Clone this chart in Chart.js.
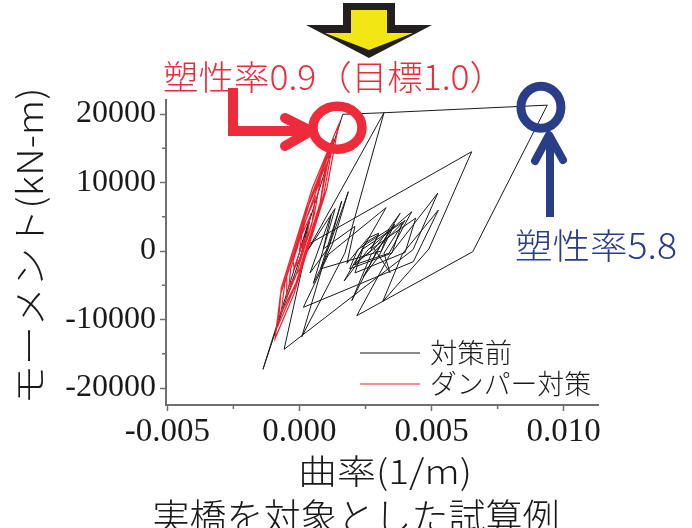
<!DOCTYPE html>
<html>
<head>
<meta charset="utf-8">
<script src="https://cdn.jsdelivr.net/npm/chart.js@4.4.1/dist/chart.umd.min.js"></script>
<style>
  html, body { margin: 0; padding: 0; background: #fff; }
  #wrap { width: 692px; height: 528px; position: relative; }
</style>
</head>
<body>
<div id="wrap"><canvas id="c" width="692" height="528"></canvas></div>
<script>
// Axis tick values
const xTickValues = [-0.005, 0.000, 0.005, 0.010];
const yTickValues = [-20000, -10000, 0, 10000, 20000];
const xMinorTicks = [-0.0025, 0.0025, 0.0075];
const yMinorTicks = [-15000, -5000, 5000, 15000];

// Moment–curvature response before retrofit (curvature 1/m, moment kN-m)
const beforeCurvature = [
  0, 0.00045, 0.00005, -0.00138, 0.00164, 0.0032, 0.00172, 0.00009, 0.0010, 0.00185,
  0.00125, 0.00053, 0.00135, 0.00028, 0.0032, 0.00938, 0.00656, 0.00217, 0.0034, 0.00523,
  0.0043, -0.00058, 0.0003, 0.00652, 0.0049, 0.00315, 0.0039, 0.00526, 0.00431, 0.00015,
  0.0011, 0.00328, 0.00169, 0.0026, 0.00425, 0.0034, 0.00205, 0.0029, 0.00381, 0.0030,
  0.00242, 0.0030, 0.0036, 0.0029, 0.00198, 0.0027, 0.0040, 0.0032, 0.00343, 0.0028,
  0.0044, 0.0040, 0.0021, 0.0024, 0.0039, 0.0035, 0.0019, 0.0022, 0.0034, 0.0031,
  0.0008, 0.0016, 0.0011, 0.0004, 0.0012, 0.0009, 0.0021, 0.0018, 0.0026, 0.0030,
  0.0027, 0.0021, 0.0025, 0.0030, 0.0027
];
const beforeMoment = [
  0, 5500, -700, -17270, 19960, 20190, -300, -12510, -600, 8660,
  1000, -4720, 6200, -100, 20190, 21300, -100, -9440, -700, 8420,
  200, -14350, 900, 14500, 300, -7400, -400, 5990, -1560, -8220,
  -500, 6330, -4380, 200, 5740, -300, -2040, 600, 5500, 300,
  -3750, -800, 3900, -200, -7250, -600, 4500, -300, -3170, 500,
  4800, -200, -3200, 300, 4200, -300, -2600, 200, 3200, 0,
  -2600, 7300, 500, -3200, 5300, 300, 3600, -1800, 1900, 2600,
  0, -1800, 1200, 2400, 300
];

// Moment–curvature response with dampers (narrow loops around the elastic branch)
const damperCurvature = [
  0, 0.0001, 0.0004, 0.0003, 0.0000, -0.0002, -0.00025, 0.00017, 0.0006, 0.00047,
  -0.00013, -0.0005, -0.00048, 0.0003, 0.0010, 0.00075, -0.00019, -0.0008, -0.00069, 0.00049,
  0.00148, 0.00104, -0.00022, -0.00092, -0.00072, 0.00047, 0.0013, 0.00092, -0.00012, -0.0007,
  -0.00055, 0.0004, 0.00115, 0.0008, 0.00001, -0.0004, -0.00033, 0.0003, 0.0008, 0.00056,
  0.00004, -0.0002, 0.0002, 0.0001
];
const damperMoment = [
  0, 2500, 5000, 2500, -1250, -2500, -1250, 3900, 7800, 3900,
  -3500, -7000, -3500, 6250, 12500, 6250, -5400, -10800, -5400, 9200,
  18400, 9200, -6400, -12750, -6400, 8250, 16500, 8250, -4600, -9200,
  -4600, 7250, 14500, 7250, -2600, -5200, -2600, 5250, 10500, 5250,
  -1250, -2500, 2000, 500
];

const seriesLabels = ['対策前', 'ダンパー対策'];
const seriesColors = ['#1a1a1a', '#ec2230'];
const noteDamper = '塑性率0.9（目標1.0）';
const noteBefore = '塑性率5.8';
const yTitle = 'モーメント(kN-m)';
const xTitle = '曲率(1/m)';
const caption = '実橋を対象とした試算例';

const RED = '#ee2b3b';
const BLUE = '#2a3d88';
const AXIS = '#707070';
const CJK = '"Noto Sans CJK JP", "Noto Sans CJK SC", sans-serif';

function toPoints(xs, ys) {
  return xs.map((x, i) => ({ x: x, y: ys[i] }));
}

// Draws text centred on (cx, cy), stretched horizontally to a given width
function fitText(ctx, text, cx, cy, size, width, color, rot) {
  ctx.save();
  ctx.font = '300 ' + size + 'px ' + CJK;
  const w = ctx.measureText(text).width;
  ctx.translate(cx, cy);
  if (rot) ctx.rotate(rot);
  ctx.scale(width / w, 1);
  ctx.textAlign = 'center';
  ctx.textBaseline = 'middle';
  ctx.fillStyle = color;
  ctx.fillText(text, 0, 0);
  ctx.restore();
}

const decorations = {
  id: 'decorations',
  afterDraw(chart) {
    const ctx = chart.ctx;
    const xs = chart.scales.x, ys = chart.scales.y;
    const area = chart.chartArea;

    // minor ticks
    ctx.save();
    ctx.strokeStyle = AXIS;
    ctx.lineWidth = 1.5;
    ctx.beginPath();
    xMinorTicks.forEach(v => {
      const px = xs.getPixelForValue(v);
      ctx.moveTo(px, area.bottom);
      ctx.lineTo(px, area.bottom + 4);
    });
    yMinorTicks.forEach(v => {
      const py = ys.getPixelForValue(v);
      ctx.moveTo(area.left, py);
      ctx.lineTo(area.left - 4, py);
    });
    ctx.stroke();
    ctx.restore();

    // legend inside the plot, lower right
    const legendRows = [353, 384];
    seriesLabels.forEach((label, i) => {
      const y = legendRows[i];
      ctx.save();
      ctx.strokeStyle = seriesColors[i];
      ctx.lineWidth = 1.2;
      ctx.beginPath();
      ctx.moveTo(360, y);
      ctx.lineTo(420, y);
      ctx.stroke();
      ctx.restore();
      const width = i === 0 ? 82 : 161;
      fitText(ctx, label, 430 + width / 2, y, 27, width, '#1a1a1a');
    });

    // axis titles and caption
    fitText(ctx, yTitle, 30, 246, 35, 317, '#1a1a1a', -Math.PI / 2);
    fitText(ctx, xTitle, 385, 471, 34, 174, '#1a1a1a');
    fitText(ctx, caption, 356, 517, 37, 407, '#1a1a1a');

    // load arrow at the top
    ctx.save();
    ctx.fillStyle = '#231f20';
    ctx.beginPath();
    ctx.moveTo(343, 3); ctx.lineTo(395, 3); ctx.lineTo(395, 25); ctx.lineTo(432, 25);
    ctx.lineTo(369, 58); ctx.lineTo(306, 25); ctx.lineTo(343, 25);
    ctx.closePath();
    ctx.fill();
    ctx.fillStyle = '#f2e614';
    ctx.beginPath();
    ctx.moveTo(351, 10); ctx.lineTo(387, 10); ctx.lineTo(387, 33); ctx.lineTo(413, 33);
    ctx.lineTo(369, 50); ctx.lineTo(325, 33); ctx.lineTo(351, 33);
    ctx.closePath();
    ctx.fill();
    ctx.restore();

    // damper case: ring around the peak and bent arrow
    const rc = { x: xs.getPixelForValue(0.00144), y: ys.getPixelForValue(18000) };
    ctx.save();
    ctx.strokeStyle = RED;
    ctx.lineWidth = 9.5;
    ctx.beginPath();
    ctx.ellipse(rc.x, rc.y, 24.5, 21.5, 0, 0, Math.PI * 2);
    ctx.stroke();
    ctx.lineWidth = 10;
    ctx.lineJoin = 'miter';
    ctx.beginPath();
    ctx.moveTo(233, 88); ctx.lineTo(233, 131); ctx.lineTo(308, 131);
    ctx.stroke();
    ctx.lineCap = 'round';
    ctx.lineJoin = 'round';
    ctx.beginPath();
    ctx.moveTo(285, 118); ctx.lineTo(311, 131); ctx.lineTo(285, 146);
    ctx.stroke();
    ctx.restore();
    fitText(ctx, noteDamper, 334, 77, 34, 342, RED);

    // unretrofitted case: ring around the peak and arrow
    const bc = { x: xs.getPixelForValue(0.00914), y: ys.getPixelForValue(21000) };
    ctx.save();
    ctx.strokeStyle = BLUE;
    ctx.lineWidth = 9;
    ctx.beginPath();
    ctx.ellipse(bc.x, bc.y, 20, 21, 0, 0, Math.PI * 2);
    ctx.stroke();
    ctx.lineWidth = 8;
    ctx.beginPath();
    ctx.moveTo(550, 217); ctx.lineTo(550, 138);
    ctx.stroke();
    ctx.lineCap = 'round';
    ctx.lineJoin = 'round';
    ctx.beginPath();
    ctx.moveTo(535, 161); ctx.lineTo(549, 135); ctx.lineTo(563, 160);
    ctx.stroke();
    ctx.restore();
    fitText(ctx, noteBefore, 596, 246, 35, 162, BLUE);
  }
};

const tickFont = { family: '"Liberation Serif", "Times New Roman", serif', size: 33 };

new Chart(document.getElementById('c').getContext('2d'), {
  type: 'scatter',
  data: {
    datasets: [
      {
        label: seriesLabels[0],
        data: toPoints(beforeCurvature, beforeMoment),
        showLine: true,
        borderColor: seriesColors[0],
        borderWidth: 1,
        pointRadius: 0,
        pointHoverRadius: 0,
        order: 2
      },
      {
        label: seriesLabels[1],
        data: toPoints(damperCurvature, damperMoment),
        showLine: true,
        borderColor: seriesColors[1],
        borderWidth: 1.2,
        pointRadius: 0,
        pointHoverRadius: 0,
        order: 1
      }
    ]
  },
  options: {
    responsive: false,
    animation: false,
    devicePixelRatio: 1,
    layout: { padding: { left: 0, right: 94, top: 100, bottom: 0 } },
    plugins: { legend: { display: false }, tooltip: { enabled: false } },
    scales: {
      x: {
        type: 'linear',
        min: -0.00505,
        max: 0.0113,
        afterBuildTicks: s => { s.ticks = xTickValues.map(v => ({ value: v })); },
        afterFit: s => { s.height = 123; },
        grid: { drawOnChartArea: false, drawTicks: true, tickLength: 6, tickColor: AXIS, tickWidth: 1.5 },
        border: { display: true, color: AXIS, width: 2 },
        ticks: {
          font: tickFont, color: '#1a1a1a', padding: 2, maxRotation: 0, autoSkip: false,
          callback: v => (Math.abs(v) < 1e-9 ? '0.000' : v.toFixed(3))
        }
      },
      y: {
        type: 'linear',
        min: -22480,
        max: 22050,
        afterBuildTicks: s => { s.ticks = yTickValues.map(v => ({ value: v })); },
        afterFit: s => { s.width = 166; },
        grid: { drawOnChartArea: false, drawTicks: true, tickLength: 6, tickColor: AXIS, tickWidth: 1.5 },
        border: { display: true, color: AXIS, width: 2 },
        ticks: {
          font: { family: tickFont.family, size: 32 }, color: '#1a1a1a', padding: 4, autoSkip: false,
          callback: v => String(v)
        }
      }
    }
  },
  plugins: [decorations]
});
</script>
</body>
</html>
